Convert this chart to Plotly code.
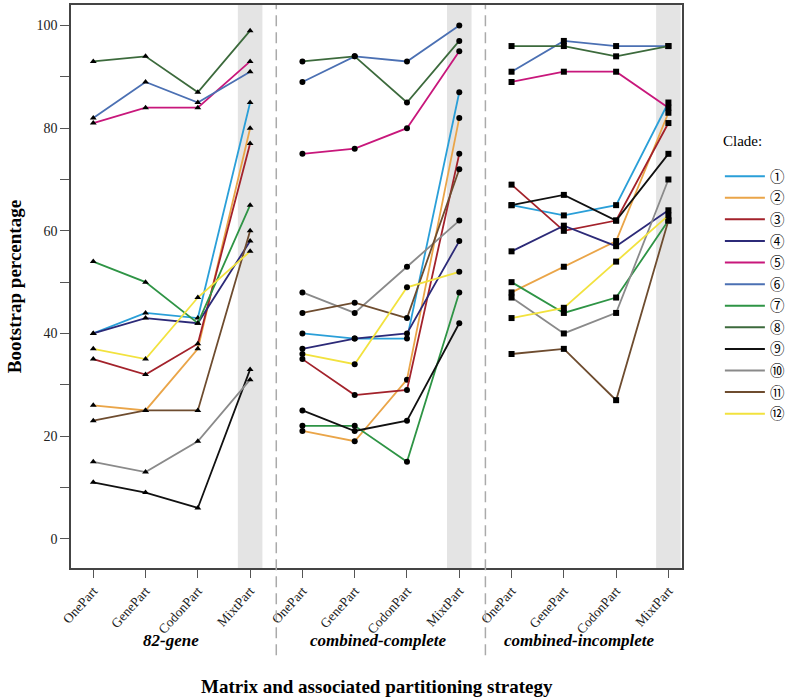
import plotly.graph_objects as go

# ---- data ----
strategies = ["OnePart", "GenePart", "CodonPart", "MixtPart"]
matrices = ["82-gene", "combined-complete", "combined-incomplete"]
clade_labels = ["①", "②", "③", "④", "⑤", "⑥", "⑦", "⑧", "⑨", "⑩", "⑪", "⑫"]

# bootstrap % per clade: [82-gene x4, combined-complete x4, combined-incomplete x4]
clade1 = [40, 44, 43, 85, 40, 39, 39, 87, 65, 63, 65, 85]
clade2 = [26, 25, 37, 80, 21, 19, 31, 82, 48, 53, 58, 83]
clade3 = [35, 32, 38, 77, 35, 28, 29, 75, 69, 60, 62, 81]
clade4 = [40, 43, 42, 58, 37, 39, 40, 58, 56, 61, 57, 64]
clade5 = [81, 84, 84, 93, 75, 76, 80, 95, 89, 91, 91, 84]
clade6 = [82, 89, 85, 91, 89, 94, 93, 100, 91, 97, 96, 96]
clade7 = [54, 50, 42, 65, 22, 22, 15, 48, 50, 44, 47, 62]
clade8 = [93, 94, 87, 99, 93, 94, 85, 97, 96, 96, 94, 96]
clade9 = [11, 9, 6, 33, 25, 21, 23, 42, 65, 67, 62, 75]
clade10 = [15, 13, 19, 31, 48, 44, 53, 62, 47, 40, 44, 70]
clade11 = [23, 25, 25, 60, 44, 46, 43, 72, 36, 37, 27, 62]
clade12 = [37, 35, 47, 56, 36, 34, 49, 52, 43, 45, 54, 63]

clade_values = [clade1, clade2, clade3, clade4, clade5, clade6,
                clade7, clade8, clade9, clade10, clade11, clade12]

colors = ["#2a9fd8", "#eaa548", "#a3222b", "#2c2a78", "#c8177b", "#4b70b3",
          "#2e9445", "#3c6a3c", "#111111", "#8a8a8a", "#6e4c2f", "#f2e23e"]
symbols = ["triangle-up", "circle", "square"]

SERIF = "Liberation Serif, Times New Roman, DejaVu Serif, serif"
CIRC = "Noto Sans CJK JP, DejaVu Sans, sans-serif"

fig = go.Figure()

# x positions 1..12, panels separated (None breaks the line)
xs, sym = [], []
for m in range(3):
    for s in range(4):
        xs.append(m * 4 + s + 1)
        sym.append(symbols[m])
    if m < 2:
        xs.append(None)
        sym.append(symbols[m])

for i, vals in enumerate(clade_values):
    ys = []
    for m in range(3):
        ys.extend(vals[m * 4:(m + 1) * 4])
        if m < 2:
            ys.append(None)
    fig.add_trace(go.Scatter(
        x=xs, y=ys, mode="lines+markers",
        line=dict(color=colors[i], width=1.8),
        marker=dict(color="black", size=6, symbol=sym),
        connectgaps=False, showlegend=False, hoverinfo="skip"))

# legend-only entries (line only)
for i, lab in enumerate(clade_labels):
    fig.add_trace(go.Scatter(
        x=[None], y=[None], mode="lines",
        name='<span style="font-size:14.5px">%s</span>' % lab,
        line=dict(color=colors[i], width=2)))

shapes = []
# grey bands behind MixtPart
for m in range(3):
    xc = m * 4 + 4
    shapes.append(dict(type="rect", xref="x", yref="paper", x0=xc - 0.235, x1=xc + 0.235,
                       y0=0, y1=1, fillcolor="#e4e4e4", line=dict(width=0), layer="below"))
# dashed separators
for xd in [4.5, 8.5]:
    shapes.append(dict(type="line", xref="x", yref="paper", x0=xd, x1=xd, y0=-0.155, y1=1,
                       line=dict(color="#aaaaaa", width=1.5, dash="11px,6px"), layer="above"))

annotations = []
for m, name in enumerate(matrices):
    xc = [2.48, 6.45, 10.3][m]
    annotations.append(dict(x=xc, y=-0.129, xref="x", yref="paper", text="<b><i>%s</i></b>" % name,
                            showarrow=False, font=dict(family=SERIF, size=17, color="black"),
                            xanchor="center", yanchor="middle"))
annotations.append(dict(x=0.5, y=-0.211, xref="paper", yref="paper",
                        text="<b>Matrix and associated partitioning strategy</b>",
                        showarrow=False, font=dict(family=SERIF, size=19, color="black"),
                        xanchor="center", yanchor="middle"))
# legend title
annotations.append(dict(x=1.064, y=0.758, xref="paper", yref="paper", text="Clade:",
                        showarrow=False, font=dict(family=SERIF, size=15, color="black"),
                        xanchor="left", yanchor="middle"))

ytickvals = list(range(0, 101, 10))
yticktext = [str(v) if v % 20 == 0 else "" for v in ytickvals]

fig.update_layout(
    width=793, height=699,
    margin=dict(l=71, r=110, t=3, b=131),
    paper_bgcolor="white", plot_bgcolor="white",
    font=dict(family=SERIF, size=14, color="black"),
    shapes=shapes, annotations=annotations,
    xaxis=dict(range=[0.574, 12.26], tickvals=list(range(1, 13)),
               ticktext=strategies * 3, tickangle=-48,
               ticks="outside", ticklen=8, tickcolor="#555", tickwidth=1,
               showline=True, linecolor="#444", linewidth=1.5, mirror=True,
               showgrid=False, zeroline=False,
               tickfont=dict(family=SERIF, size=13.5, color="#222")),
    yaxis=dict(range=[-5.7, 104], tickvals=ytickvals, ticktext=yticktext,
               ticks="outside", ticklen=9, tickcolor="#555", tickwidth=1,
               showline=True, linecolor="#444", linewidth=1.5, mirror=True,
               showgrid=False, zeroline=False,
               tickfont=dict(family=SERIF, size=14, color="#222"),
               title=dict(text="<b>Bootstrap percentage</b>", standoff=10,
                          font=dict(family=SERIF, size=19, color="black"))),
    legend=dict(x=1.062, xanchor="left", y=0.724, yanchor="top",
                font=dict(family=CIRC, size=14.3, color="black"),
                bgcolor="rgba(0,0,0,0)", itemwidth=40, tracegroupgap=0),
)

fig.write_html("out.html", config={"displayModeBar": False},
               post_script="document.body.style.margin='0';")
